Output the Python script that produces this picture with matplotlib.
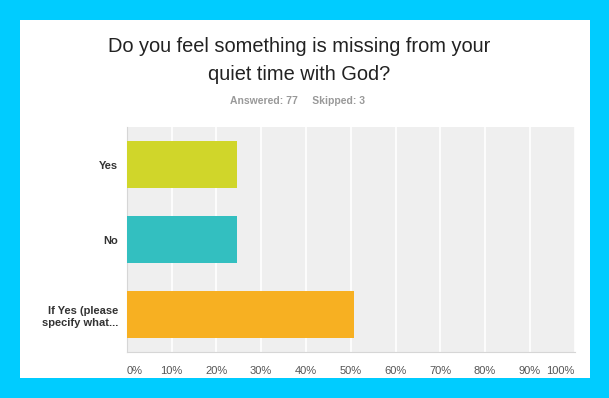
"""
Survey bar chart: Do you feel something is missing from your quiet time with God?
"""

import matplotlib
matplotlib.use('Agg')
import matplotlib.pyplot as plt
from matplotlib.patches import Rectangle

plt.rcParams['font.family'] = ['Liberation Sans', 'DejaVu Sans']

# data
answers = ['Yes', 'No', 'If Yes (please\nspecify what...']
percents = [24.68, 24.68, 50.65]
bar_colors = ['#D0D62A', '#33BFC0', '#F7B022']
x_ticks = [0, 10, 20, 30, 40, 50, 60, 70, 80, 90, 100]
x_tick_labels = [f'{t}%' for t in x_ticks]

W, H = 609, 398
fig = plt.figure(figsize=(W / 100, H / 100), dpi=100)
fig.patch.set_facecolor('#00CCFF')

# white card behind everything
fig.patches.append(Rectangle((20 / W, 1 - 378 / H), 570 / W, 358 / H,
                             transform=fig.transFigure, facecolor='white',
                             edgecolor='none', zorder=-5))

fig.text(299 / W, 1 - 47 / H, 'Do you feel something is missing from your',
         ha='center', va='center', fontsize=14.4, color='#222222')
fig.text(299 / W, 1 - 74 / H, 'quiet time with God?',
         ha='center', va='center', fontsize=14.4, color='#222222')
fig.text(297 / W, 1 - 101 / H, 'Answered: 77     Skipped: 3',
         ha='center', va='center', fontsize=7.5, color='#999999', fontweight='bold')

left, right, top, bottom = 126.7, 574.7, 127, 352
ax = fig.add_axes([left / W, 1 - bottom / H, (right - left) / W, (bottom - top) / H])
ax.set_zorder(2)
ax.set_facecolor('#EFEFEF')

y = list(range(len(answers)))
ax.barh(y, percents, height=0.62, color=bar_colors, zorder=3)

ax.set_xlim(0, 100)
ax.set_ylim(len(answers) - 0.5, -0.5)

ax.set_xticks(x_ticks)
ax.set_xticklabels(x_tick_labels, fontsize=8, color='#555555')
labels = ax.get_xticklabels()
labels[0].set_ha('left')
labels[-1].set_ha('right')
ax.tick_params(axis='x', length=0, pad=10)

ax.set_yticks(y)
ax.set_yticklabels(answers, fontsize=8, fontweight='bold', color='#333333',
                   linespacing=1.3)
ax.tick_params(axis='y', length=0, pad=6)

ax.grid(axis='x', color='white', linewidth=1.2, zorder=1)
for side in ['top', 'right']:
    ax.spines[side].set_visible(False)
for side in ['left', 'bottom']:
    ax.spines[side].set_color('#D6D6D6')
    ax.spines[side].set_linewidth(0.8)

fig.savefig('out.png', dpi=100, facecolor=fig.get_facecolor())
